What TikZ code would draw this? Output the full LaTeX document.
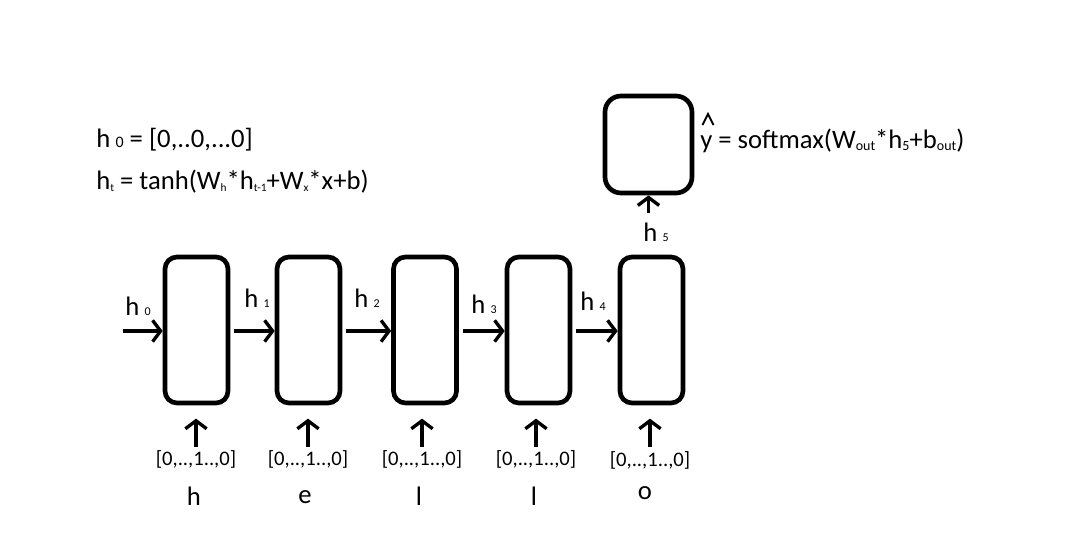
\documentclass[tikz,border=0pt]{standalone}
\usepackage{fontspec}
\setmainfont{Carlito}
\usetikzlibrary{arrows.meta}
\newcommand{\fsub}[1]{\raisebox{-1.5pt}{\fontsize{10.5}{11}\selectfont #1}}
\newcommand{\gsub}[1]{\raisebox{-1.5pt}{\fontsize{8.5}{9}\selectfont #1}}
\newcommand{\lsub}[1]{\hspace{4pt}{\fontsize{9}{9}\selectfont #1}}
\begin{document}
\begin{tikzpicture}[x=0.75pt,y=-0.75pt,
  cell/.style={draw, line width=3.5pt, rounded corners=9pt, minimum width=47.25pt, minimum height=109.5pt, inner sep=0},
  outcell/.style={draw, line width=3.5pt, rounded corners=12pt, minimum width=65.25pt, minimum height=72.75pt, inner sep=0},
  arr/.style={line width=2.5pt, -{Straight Barb[length=6pt,width=16pt,line width=2.5pt]}},
  txt/.style={inner sep=0, anchor=base west, font=\fontsize{20}{22}\selectfont},
  vec/.style={inner sep=0, anchor=base, font=\fontsize{15.5}{17}\selectfont},
  chr/.style={inner sep=0, anchor=base, font=\fontsize{20}{22}\selectfont}]
\useasboundingbox (0,0) rectangle (1065,547);
% formulas
\node[txt] (f1) at (96,147) {h\lsub{\fontsize{12}{12}\selectfont 0} = [0,..0,...0]};
\node[txt] (f2) at (96,189) {h\gsub{t} = tanh(W\gsub{h}*h\gsub{t-1}+W\gsub{x}*x+b)};
% output
\node[outcell] (out) at (648.5,144.5) {};
\node[txt] (f3) at (700,148) {y = softmax(W\fsub{out}*h\fsub{5}+b\fsub{out})};
% hat over y
\draw[line width=1.4pt, line join=miter] (702.5,125) -- (708,114) -- (713.5,125);
\node[txt] (h5) at (643,241) {h\lsub{5}};
% cells
\node[cell] (c1) at (196.5,330) {};
\node[cell] (c2) at (308.5,330) {};
\node[cell] (c3) at (425,330) {};
\node[cell] (c4) at (538.5,330) {};
\node[cell] (c5) at (651.5,330) {};
\coordinate (s0) at (123,331);
% hidden labels
\node[txt] (l0) at (125,315) {h\lsub{0}};
\node[txt] (l1) at (244,307) {h\lsub{1}};
\node[txt] (l2) at (354,307) {h\lsub{2}};
\node[txt] (l3) at (471,313) {h\lsub{3}};
\node[txt] (l4) at (580,310) {h\lsub{4}};
% horizontal arrows
\draw[arr] (s0) -- (c1.west |- s0);
\draw[arr, shorten <=3pt] (c1.east |- s0) -- (c2.west |- s0);
\draw[arr, shorten <=3pt] (c2.east |- s0) -- (c3.west |- s0);
\draw[arr, shorten <=3pt] (c3.east |- s0) -- (c4.west |- s0);
\draw[arr, shorten <=3pt] (c4.east |- s0) -- (c5.west |- s0);
% inputs
\node[vec] (v1) at (196,465) {[0,..,1..,0]};
\node[vec] (v2) at (308,465) {[0,..,1..,0]};
\node[vec] (v3) at (422,465) {[0,..,1..,0]};
\node[vec] (v4) at (536,465) {[0,..,1..,0]};
\node[vec] (v5) at (650,466) {[0,..,1..,0]};
\node[chr] (x1) at (194,505) {h};
\node[chr] (x2) at (305,503) {e};
\node[chr] (x3) at (419,505) {l};
\node[chr] (x4) at (534,505) {l};
\node[chr] (x5) at (645,499) {o};
\draw[arr, shorten >=10pt] (v1.north |- 0,447) -- (c1.south -| v1.north);
\draw[arr, shorten >=10pt] (v2.north |- 0,447) -- (c2.south -| v2.north);
\draw[arr, shorten >=10pt] (v3.north |- 0,447) -- (c3.south -| v3.north);
\draw[arr, shorten >=10pt] (v4.north |- 0,447) -- (c4.south -| v4.north);
\draw[arr, shorten >=10pt] (v5.north |- 0,447) -- (c5.south -| v5.north);
\draw[arr] (out.south |- 0,213) -- (out.south);
\end{tikzpicture}
\end{document}
